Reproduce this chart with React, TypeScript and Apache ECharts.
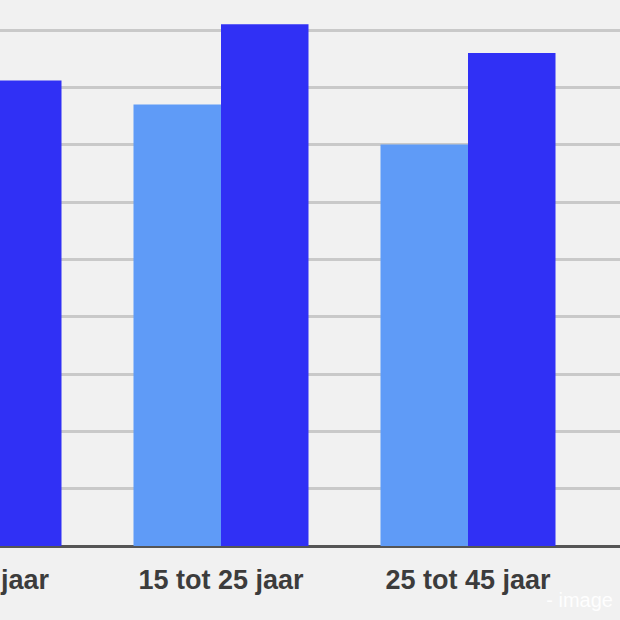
import { useEffect, useRef } from "react";
import * as echarts from "echarts";

const categories = ["0 tot 15 jaar", "15 tot 25 jaar", "25 tot 45 jaar", "45 tot 65 jaar"];
const lightValues = [37, 38.5, 35, 33];
const darkValues = [40.6, 45.5, 43, 41];
const yMin = 0;
const yMax = 50;
const yInterval = 5;

const LIGHT_COLOR = "#5f9bf7";
const DARK_COLOR = "#3030f5";

export default function App() {
  const chartRef = useRef<HTMLDivElement>(null);

  useEffect(() => {
    if (!chartRef.current) {
      return;
    }
    const chart = echarts.init(chartRef.current, undefined, { renderer: "svg" });

    chart.setOption({
      animation: false,
      backgroundColor: "#f1f1f1",
      grid: {
        left: 50.5,
        width: 988,
        top: 32.6,
        bottom: 94,
      },
      xAxis: {
        type: "category",
        data: categories,
        axisTick: { show: false },
        axisLine: {
          lineStyle: { color: "#555555", width: 3 },
        },
        axisLabel: {
          color: "#3c3c3c",
          fontFamily: "Liberation Sans, Arial, sans-serif",
          fontWeight: "bold",
          fontSize: 27,
          margin: 20,
        },
      },
      yAxis: {
        type: "value",
        min: yMin,
        max: yMax,
        interval: yInterval,
        axisLabel: { show: false },
        axisLine: { show: false },
        axisTick: { show: false },
        splitLine: {
          lineStyle: { color: "#c9c9c9", width: 3 },
        },
      },
      series: [
        {
          name: "light",
          type: "bar",
          data: lightValues,
          barWidth: 87.5,
          barGap: "0%",
          itemStyle: { color: LIGHT_COLOR },
        },
        {
          name: "dark",
          type: "bar",
          data: darkValues,
          barWidth: 87.5,
          barGap: "0%",
          itemStyle: { color: DARK_COLOR },
        },
      ],
    });

    return () => {
      chart.dispose();
    };
  }, []);

  return (
    <div
      style={{
        position: "fixed",
        left: 0,
        top: 0,
        width: 620,
        height: 620,
        overflow: "hidden",
        background: "#f1f1f1",
      }}
    >
      <div
        ref={chartRef}
        style={{ position: "absolute", left: -200, top: -60, width: 1250, height: 700 }}
      />
      <div
        style={{
          position: "absolute",
          right: 7,
          top: 589,
          color: "rgba(255,255,255,0.95)",
          fontFamily: "Liberation Sans, Arial, sans-serif",
          fontSize: 20,
        }}
      >
        - image
      </div>
    </div>
  );
}
